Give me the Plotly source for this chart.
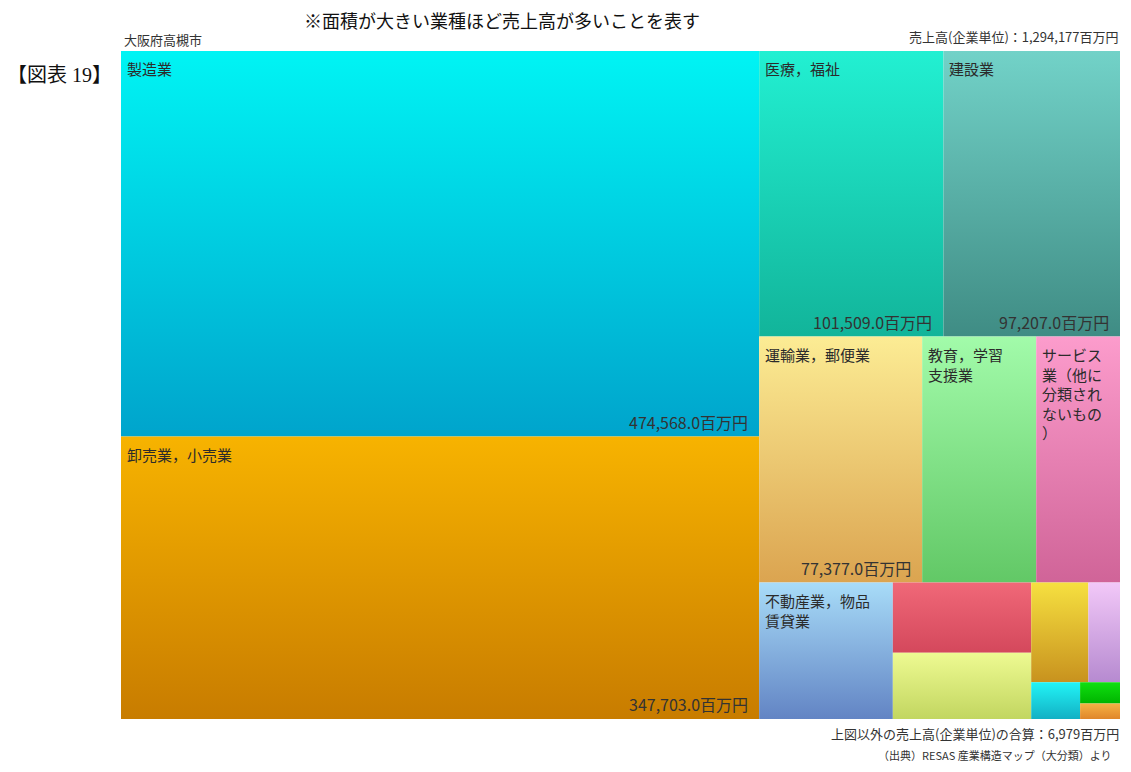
import math
import plotly.graph_objects as go

# ---------------- data ----------------
industries = [
    "製造業", "卸売業，小売業", "医療，福祉", "建設業", "運輸業，郵便業",
    "教育，学習支援業", "サービス業（他に分類されないもの）", "不動産業，物品賃貸業",
    "宿泊業，飲食サービス業", "生活関連サービス業，娯楽業", "学術研究，専門・技術サービス業",
    "情報通信業", "複合サービス事業", "農業，林業", "電気・ガス・熱供給・水道業",
]
sales = [474568.0, 347703.0, 101509.0, 97207.0, 77377.0,
         54125.0, 39780.0, 35170.0, 18690.0, 17715.0,
         10982.0, 6076.0, 3469.0, 1640.0, 1192.0]
tile_labels = [
    "製造業", "卸売業，小売業", "医療，福祉", "建設業", "運輸業，郵便業",
    "教育，学習<br>支援業", "サービス<br>業（他に<br>分類され<br>ないもの<br>）",
    "不動産業，物品<br>賃貸業", "", "", "", "", "", "", "",
]
show_value = [True, True, True, True, True] + [False] * 10
top_colors = ["#00f4f4", "#f7b300", "#22f0d2", "#72d2c8", "#fcec94", "#a2fbaa", "#fc9ccc",
              "#a8dcf8", "#f06878", "#eefa92", "#f6e040", "#f2c8f8", "#22f4f6", "#10e010", "#f6b244"]
bottom_colors = ["#00a4cc", "#c87c00", "#12b49a", "#3f8c84", "#dba450", "#62c866", "#d06498",
                 "#6284c4", "#d4485c", "#c2d660", "#c8921e", "#b68ad0", "#12b0c4", "#00b400", "#e0862a"]

total_sales = "1,294,177"
other_sales = "6,979"
city = "大阪府高槻市"
note = "※面積が大きい業種ほど売上高が多いことを表す"
fig_label = "【図表 19】"
source = "（出典）RESAS 産業構造マップ（大分類）より"

# ---------------- layout geometry ----------------
OFF = 8  # default body margin of the html page
WIDTH, HEIGHT = 1131 - 2 * OFF, 772 - 2 * OFF
ML, MT = 121 - OFF, 51 - OFF
PW, PH = 999, 668
MR, MB = WIDTH - ML - PW, HEIGHT - MT - PH
PHI = (1 + math.sqrt(5)) / 2


def squarify(values, x0, y0, x1, y1, ratio=PHI):
    """d3-style squarified treemap (values sorted descending)."""
    rects = []
    n = len(values)
    value = sum(values)
    i0 = 0
    while i0 < n:
        dx, dy = x1 - x0, y1 - y0
        i1 = i0
        s = values[i1]
        i1 += 1
        mn = mx = s
        alpha = max(dy / dx, dx / dy) / (value * ratio)
        beta = s * s * alpha
        min_r = max(mx / beta, beta / mn)
        while i1 < n:
            v = values[i1]
            s2 = s + v
            mn2, mx2 = min(mn, v), max(mx, v)
            beta = s2 * s2 * alpha
            nr = max(mx2 / beta, beta / mn2)
            if nr > min_r:
                break
            s, mn, mx, min_r = s2, mn2, mx2, nr
            i1 += 1
        row = values[i0:i1]
        if dx < dy:
            yb = y0 + dy * s / value
            xx = x0
            for v in row:
                w = (x1 - x0) * v / s
                rects.append((xx, y0, xx + w, yb))
                xx += w
            y0 = yb
        else:
            xr = x0 + dx * s / value
            yy = y0
            for v in row:
                h = (y1 - y0) * v / s
                rects.append((x0, yy, xr, yy + h))
                yy += h
            x0 = xr
        value -= s
        i0 = i1
    return rects


order = sorted(range(len(sales)), key=lambda i: -sales[i])
rects_sorted = squarify([sales[i] for i in order], 0, 0, PW, PH)
rects = [None] * len(sales)
for k, i in enumerate(order):
    rects[i] = rects_sorted[k]

fig = go.Figure()
annotations = []
FONT = "Noto Sans CJK JP, Noto Sans, sans-serif"

for i, (x0, y0, x1, y1) in enumerate(rects):
    fig.add_trace(go.Scatter(
        x=[x0, x1, x1, x0, x0], y=[y0, y0, y1, y1, y0],
        mode="lines", fill="toself",
        line=dict(width=0, color=bottom_colors[i]),
        fillcolor=top_colors[i],
        fillgradient=dict(type="vertical",
                          colorscale=[[0, bottom_colors[i]], [1, top_colors[i]]]),
        hoverinfo="text", text=f"{industries[i]}: {sales[i]:,.1f}百万円",
        showlegend=False,
    ))
    if tile_labels[i]:
        annotations.append(dict(
            x=x0, y=y0, xref="x", yref="y", xanchor="left", yanchor="top",
            xshift=4, yshift=-5, text=tile_labels[i], showarrow=False, align="left",
            font=dict(family=FONT, size=15, color="#2b2b2b"),
        ))
    if show_value[i]:
        annotations.append(dict(
            x=x1, y=y1, xref="x", yref="y", xanchor="right", yanchor="bottom",
            xshift=-9, yshift=1, text=f"{sales[i]:,.1f}百万円", showarrow=False,
            font=dict(family=FONT, size=16, color="#333333"),
        ))


def px(xp):  # page x pixel -> paper fraction
    return (xp - OFF - ML) / PW


def py(yp):  # page y pixel -> paper fraction
    return 1 - (yp - OFF - MT) / PH


annotations += [
    dict(x=px(502), y=py(20), xref="paper", yref="paper",
         xanchor="center", yanchor="middle", text=note, showarrow=False,
         font=dict(family=FONT, size=18, color="#111111")),
    dict(x=px(122), y=py(40), xref="paper", yref="paper",
         xanchor="left", yanchor="middle", text=city, showarrow=False,
         font=dict(family=FONT, size=13, color="#333333")),
    dict(x=px(1121), y=py(36), xref="paper", yref="paper",
         xanchor="right", yanchor="middle", text=f"売上高(企業単位)：{total_sales}百万円",
         showarrow=False, font=dict(family=FONT, size=13, color="#333333")),
    dict(x=px(1121), y=py(733), xref="paper", yref="paper",
         xanchor="right", yanchor="middle", text=f"上図以外の売上高(企業単位)の合算：{other_sales}百万円",
         showarrow=False, font=dict(family=FONT, size=13, color="#333333")),
    dict(x=px(1114), y=py(755), xref="paper", yref="paper",
         xanchor="right", yanchor="middle", text=source,
         showarrow=False, font=dict(family=FONT, size=11, color="#333333")),
    dict(x=px(59), y=py(75), xref="paper", yref="paper",
         xanchor="center", yanchor="middle", text=fig_label,
         showarrow=False, font=dict(family="Liberation Serif, Noto Sans CJK JP, serif", size=20, color="#111111")),
]

fig.update_layout(
    width=WIDTH, height=HEIGHT,
    margin=dict(l=ML, r=MR, t=MT, b=MB),
    paper_bgcolor="white", plot_bgcolor="white",
    xaxis=dict(range=[0, PW], visible=False, fixedrange=True),
    yaxis=dict(range=[PH, 0], visible=False, fixedrange=True),
    annotations=annotations,
    showlegend=False,
)

fig.write_html("out.html")
